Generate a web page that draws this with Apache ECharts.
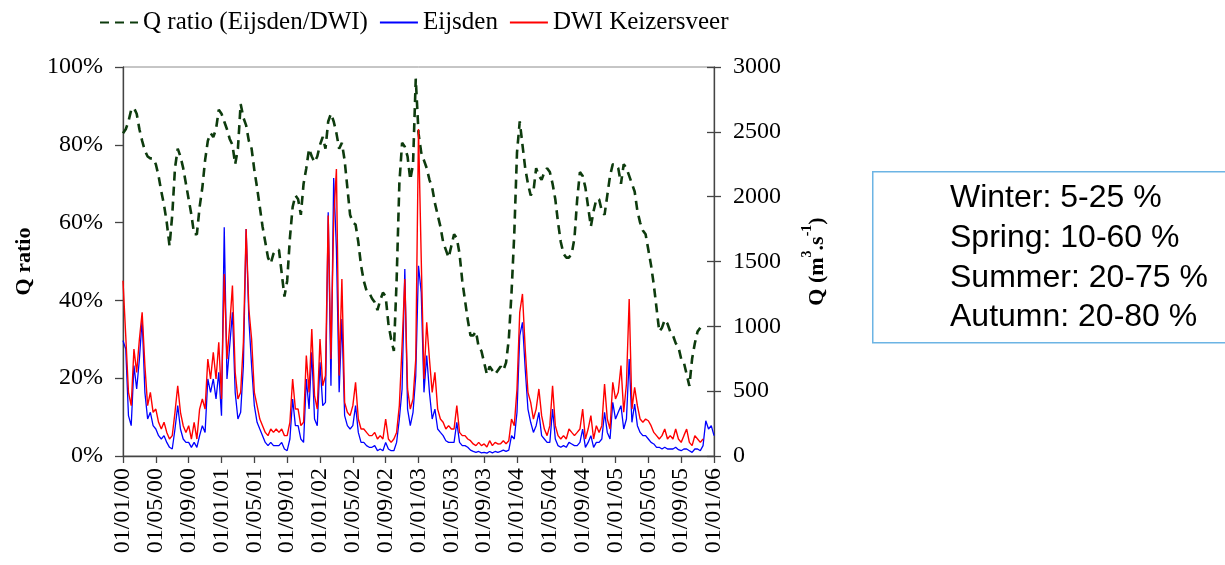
<!DOCTYPE html>
<html>
<head>
<meta charset="utf-8">
<script src="https://cdn.jsdelivr.net/npm/echarts@6/dist/echarts.min.js"></script>
<style>
html,body{margin:0;padding:0;background:#fff;}
#chart{width:1225px;height:565px;}
</style>
</head>
<body>
<div id="chart"></div>
<script>
// Samples every third of a month starting 01/01/2000 (sample i sits at month i/3)
const SAMPLES_PER_MONTH = 3;

// Q ratio (Eijsden/DWI), percent
const ratio = [
83,84,86,89,89.5,88,84,81,78.5,77,76.5,76.5,75,72,68,64.5,60,54,62,74,
79,77,74,70,66,62,57,57,64,69,76,81,83,82,84,89,88,86,84,81.5,
80,75,79,90.5,87,85,81,79,73.5,69,64,59,55,51,49.5,52,53,53,47,41,
45,56,64,67,66,62,70,74,79,77,75.5,77,80,82,79,86,88,86,83,79,
80.5,76,69,62,60,59.5,55,49,45,42.5,42,40.5,39.5,37.5,40,42,41,34,30,27,
45,70,80.5,79.5,77,71,75,97,83,78,76,74,71,69,65,62,59,55,53,51,
54,57,56,52,45,40,35,31,31,32,28,27,24,21,23,22,21,22,23,22,
24,30,42,57,78,86,80,74,70,67,68,74,72,71,73,74,73,70,66,60,
55,52,51,51,52,56,66,73,72,69,64,59,63,66,66,63,62,67,72,75,
75,74,70,75,74,72,70,68,63,60,58,57,53,49,44,38,32,33,35,34,
32,31,29,28,25,24,21,18,25,29,32,33
];

// Eijsden discharge, m3/s
const eijsden = [
890,825,311,234,697,517,748,1057,491,285,337,234,208,157,131,157,105,67,54,208,
388,208,131,105,105,67,105,67,157,234,182,594,491,594,440,645,311,1764,594,851,
1108,491,285,337,697,1751,1057,697,388,260,208,157,105,80,105,80,80,80,105,54,
41,131,440,234,234,131,105,594,362,800,285,234,722,388,414,1879,542,2143,1597,491,
1057,311,234,208,234,388,182,105,105,80,67,67,80,41,54,41,105,54,41,41,
105,285,517,1442,362,234,337,620,1467,1262,491,774,491,285,362,208,182,157,118,105,
105,105,260,105,80,80,67,45,35,28,35,24,28,22,35,24,35,28,35,45,
35,45,157,131,337,928,1031,671,362,260,182,234,337,157,131,105,105,362,131,80,
67,80,67,105,93,80,80,105,208,67,105,157,67,105,105,131,337,182,131,414,
285,337,388,208,285,748,260,401,234,182,157,157,131,105,93,67,67,54,67,54,
54,54,67,49,41,54,54,41,28,54,54,41,80,272,208,234,157
];

// DWI Keizersveer discharge, m3/s
const dwi = [
1352,928,491,388,825,645,902,1108,697,388,491,337,362,260,208,260,182,131,157,337,
542,337,234,182,234,131,260,131,362,440,362,748,594,800,594,877,440,1404,748,1005,
1314,645,440,491,877,1751,1134,902,491,388,285,234,182,157,208,182,208,182,208,157,
157,260,594,362,362,234,260,774,491,980,465,362,902,542,620,1854,748,1828,2214,620,
1365,414,337,311,388,568,285,208,208,182,157,157,182,131,157,131,285,131,105,131,
182,388,851,1365,517,362,440,748,2522,1519,594,1031,748,491,645,362,285,260,208,234,
208,208,388,182,157,157,131,118,93,80,105,80,93,70,118,80,105,93,95,118,
95,118,285,234,517,1108,1250,825,491,414,285,362,517,311,208,157,234,542,234,157,
131,157,131,208,182,157,182,208,362,131,208,311,131,234,182,234,555,285,208,568,
440,491,697,337,555,1211,362,530,388,285,260,285,272,234,182,157,131,157,208,131,
157,131,208,131,105,157,208,105,80,157,131,105,131
];

// x-axis tick labels: every 4 months
const tickMonths = [0,4,8,12,16,20,24,28,32,36,40,44,48,52,56,60,64,68,72];

function pad(n){return (n<10?'0':'')+n;}
function monthLabel(m){ return '01/' + pad(m % 12 + 1) + '/' + pad(Math.floor(m / 12)); }
function toXY(arr){ return arr.map((v,i)=>[i/SAMPLES_PER_MONTH, v]); }

const serif = "'Liberation Serif','Times New Roman',serif";
const chart = echarts.init(document.getElementById('chart'), null, {renderer:'canvas'});
chart.setOption({
  animation:false,
  backgroundColor:'#ffffff',
  legend:{
    left:94, top:5, itemWidth:38, itemHeight:14, itemGap:11,
    itemStyle:{opacity:0},
    textStyle:{fontFamily:serif, fontSize:25, color:'#000'},
    data:['Q ratio (Eijsden/DWI)','Eijsden','DWI Keizersveer']
  },
  grid:{left:123, right:511, top:67, bottom:109, show:true, borderColor:'#8c8c8c', borderWidth:1},
  xAxis:{
    type:'value', min:0, max:72, interval:4,
    axisLine:{lineStyle:{color:'#444', width:1.3}},
    axisTick:{show:true, length:7, lineStyle:{color:'#444', width:1.3}},
    splitLine:{show:false},
    axisLabel:{rotate:90, margin:12, fontFamily:serif, fontSize:24, color:'#000',
      formatter:function(v){ return tickMonths.indexOf(v) >= 0 ? monthLabel(v) : ''; }}
  },
  yAxis:[
    {type:'value', min:0, max:1, interval:0.2, position:'left',
     name:'Q ratio', nameLocation:'middle', nameGap:88, nameRotate:90,
     nameTextStyle:{fontFamily:serif, fontSize:22, fontWeight:'bold', color:'#000'},
     axisLine:{show:true, lineStyle:{color:'#444', width:1.3}},
     axisTick:{show:true, length:8, lineStyle:{color:'#444', width:1.3}},
     splitLine:{show:false},
     axisLabel:{margin:20, fontFamily:serif, fontSize:24, color:'#000',
       formatter:function(v){return Math.round(v*100)+'%';}}},
    {type:'value', min:0, max:3000, interval:500, position:'right',
     name:'{n|Q (m}{s|3}{n|.s}{s|-1}{n|)}', nameLocation:'middle', nameGap:86, nameRotate:90,
     nameTextStyle:{color:'#000',
       rich:{
         n:{fontFamily:serif, fontSize:22, fontWeight:'bold', color:'#000', lineHeight:28, verticalAlign:'bottom'},
         s:{fontFamily:serif, fontSize:14, fontWeight:'bold', color:'#000', lineHeight:28, verticalAlign:'top'}
       }},
     axisLine:{show:true, lineStyle:{color:'#444', width:1.3}},
     axisTick:{show:true, length:7, inside:false, lineStyle:{color:'#444', width:1.3}},
     splitLine:{show:false},
     axisLabel:{margin:19, fontFamily:serif, fontSize:24, color:'#000',
       formatter:function(v){return String(v);}}},
    {type:'value', min:0, max:3000, interval:500, position:'right',
     axisLine:{show:false}, axisLabel:{show:false}, splitLine:{show:false},
     axisTick:{show:true, inside:true, length:7, lineStyle:{color:'#444', width:1.3}}}
  ],
  series:[
    {name:'Q ratio (Eijsden/DWI)', type:'line', yAxisIndex:0, showSymbol:false, symbol:'none',
     data: ratio.map((v,i)=>[i/SAMPLES_PER_MONTH, v/100]),
     lineStyle:{color:'#0d3b0d', width:2.6, type:[9,6]}, itemStyle:{color:'#0d3b0d'}},
    {name:'Eijsden', type:'line', yAxisIndex:1, showSymbol:false, symbol:'none',
     data: toXY(eijsden), lineStyle:{color:'#0000ff', width:1.3}, itemStyle:{color:'#0000ff'}},
    {name:'DWI Keizersveer', type:'line', yAxisIndex:1, showSymbol:false, symbol:'none',
     data: toXY(dwi), lineStyle:{color:'#ff0000', width:1.4}, itemStyle:{color:'#ff0000'}}
  ],
  graphic:[
    {type:'rect', left:872, top:171, silent:true,
     shape:{x:0, y:0, width:400, height:171},
     style:{fill:'#fff', stroke:'#6cb4e4', lineWidth:1.5}},
    {type:'text', x:950, y:198, style:{text:'Winter: 5-25 %', font:"32px 'Liberation Sans', Arial, sans-serif", fill:'#000', textVerticalAlign:'middle'}},
    {type:'text', x:950, y:238, style:{text:'Spring: 10-60 %', font:"32px 'Liberation Sans', Arial, sans-serif", fill:'#000', textVerticalAlign:'middle'}},
    {type:'text', x:950, y:278, style:{text:'Summer: 20-75 %', font:"32px 'Liberation Sans', Arial, sans-serif", fill:'#000', textVerticalAlign:'middle'}},
    {type:'text', x:950, y:317, style:{text:'Autumn: 20-80 %', font:"32px 'Liberation Sans', Arial, sans-serif", fill:'#000', textVerticalAlign:'middle'}}
  ]
});
</script>
</body>
</html>
